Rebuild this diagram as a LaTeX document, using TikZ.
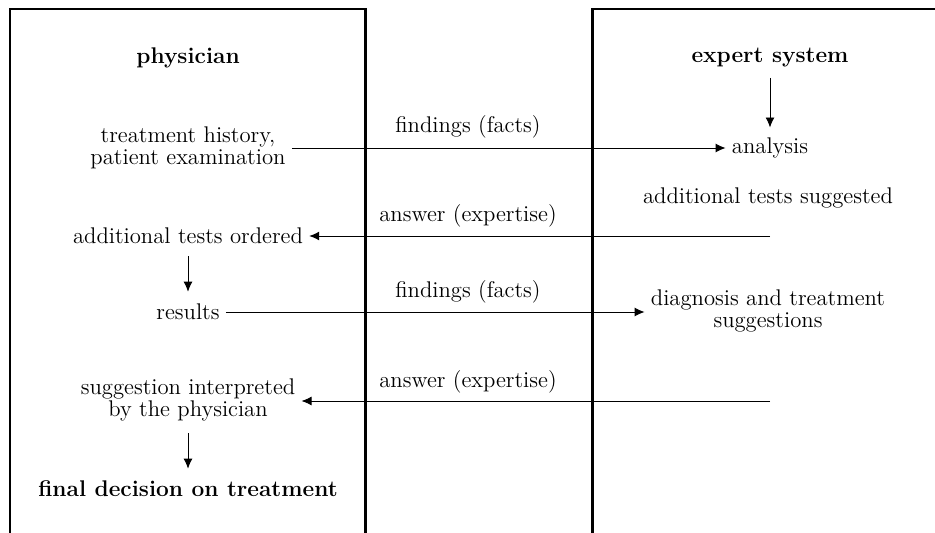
\documentclass[tikz,border=0pt]{standalone}
\usetikzlibrary{arrows.meta}
\begin{document}
\begin{tikzpicture}[x=0.5025pt,y=-0.5025pt,
  font=\fontsize{11.4pt}{11pt}\selectfont,
  lane/.style={line width=1.5pt},
  flow/.style={-{Latex[length=5pt,width=4.5pt]},line width=0.45pt},
  txt/.style={align=center,inner sep=3pt},
  bf/.style={txt,font=\fontsize{11.4pt}{11pt}\selectfont\bfseries},
  lbl/.style={inner sep=0pt}]
\useasboundingbox (0,0) rectangle (935,533);
% swimlanes
\draw[lane] (10,533) -- (10,9) -- (365,9) -- (365,533);
\draw[lane] (592,533) -- (592,9) -- (940,9);
% physician side
\node[bf] (ph) at (188,58) {physician};
\node[txt] (th) at (188,148) {treatment history,\\patient examination};
\node[txt] (ato) at (188,236) {additional tests ordered};
\node[txt] (res) at (188,312) {results};
\node[txt] (sip) at (188,400) {suggestion interpreted\\by the physician};
\node[bf] (fd) at (188,489) {final decision on treatment};
% expert side
\node[bf] (es) at (770,58) {expert system};
\node[txt] (an) at (770,148) {analysis};
\node[txt] (ats) at (768,198) {additional tests suggested};
\node[txt] (dts) at (768,311) {diagnosis and treatment\\suggestions};
\coordinate (c1) at (770,236);
\coordinate (c2) at (770,401);
% labels
\node[lbl] (l1) at (468,127) {findings (facts)};
\node[lbl] (l2) at (468,216) {answer (expertise)};
\node[lbl] (l3) at (468,292) {findings (facts)};
\node[lbl] (l4) at (468,382) {answer (expertise)};
% connectors
\draw[flow] (th.east |- an.west) -- (an.west);
\draw[flow,shorten <=2pt,shorten >=2pt] (es.south) -- (an.north);
\draw[flow] (c1) -- (ato.east);
\draw[flow,shorten <=3pt,shorten >=3pt] (ato.south) -- (res.north);
\draw[flow] (res.east) -- (dts.west |- res.east);
\draw[flow] (c2) -- (sip.east |- c2);
\draw[flow,shorten <=3pt,shorten >=3pt] (sip.south) -- (fd.north);
\end{tikzpicture}
\end{document}
